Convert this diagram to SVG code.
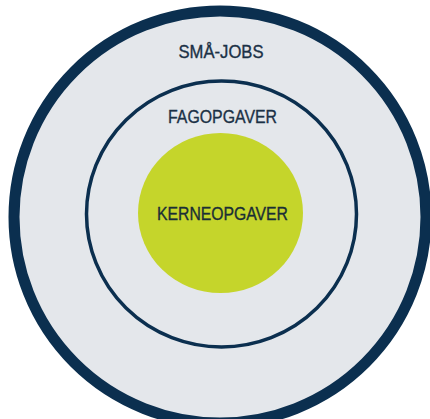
<svg xmlns="http://www.w3.org/2000/svg" width="430" height="419" viewBox="0 0 430 419">
<style>
.lbl{font-family:"Liberation Sans",Arial,sans-serif;font-size:18px;fill:#1b3146;stroke:#1b3146;stroke-width:0.35;text-anchor:middle}
</style>
<rect width="430" height="419" fill="#ffffff"/>
<g id="smaa-jobs">
<circle cx="220" cy="217" r="206" fill="#e4e7eb" stroke="#0b2f4f" stroke-width="11"/>
<text class="lbl" x="221" y="58" textLength="85" lengthAdjust="spacingAndGlyphs">SMÅ-JOBS</text>
</g>
<g id="fagopgaver">
<ellipse cx="221.5" cy="214" rx="135" ry="133" fill="#e4e7eb" stroke="#0b2f4f" stroke-width="3.5"/>
<text class="lbl" x="222.5" y="123" textLength="109" lengthAdjust="spacingAndGlyphs">FAGOPGAVER</text>
</g>
<g id="kerneopgaver">
<ellipse cx="220.5" cy="213" rx="82.5" ry="80" fill="#c5d52b"/>
<text class="lbl" x="222.5" y="220" textLength="131" lengthAdjust="spacingAndGlyphs" style="fill:#1a2e35;stroke:#1a2e35">KERNEOPGAVER</text>
</g>
<g id="connectors"/>
</svg>
